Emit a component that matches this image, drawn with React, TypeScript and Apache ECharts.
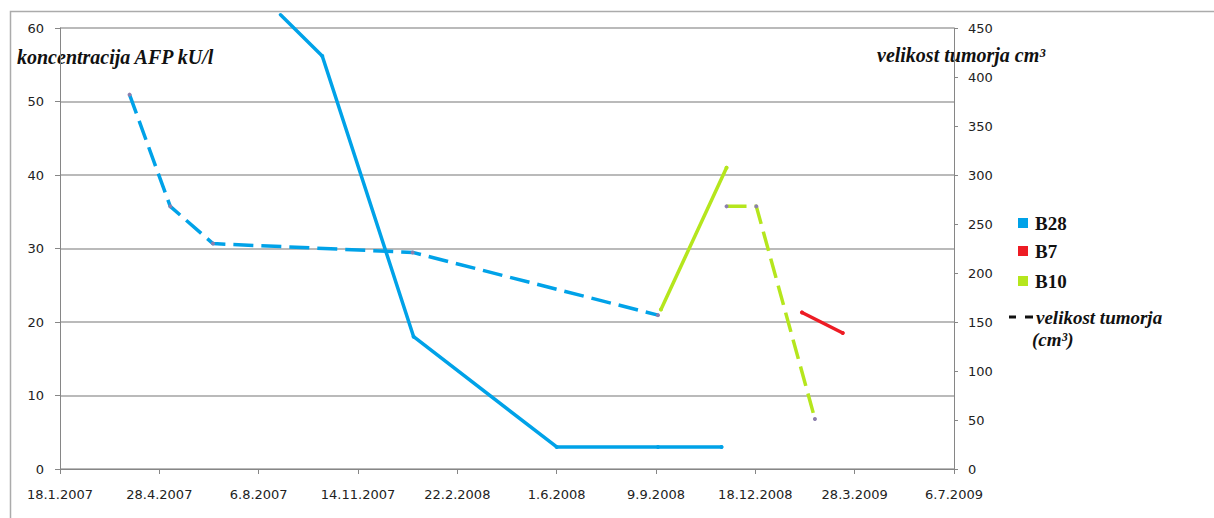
import { useEffect, useRef } from 'react';
import * as echarts from 'echarts';

// Time axis is expressed in days counted from the first tick date.
const BASE_DATE = '2007-01-18';
const X_TICK_DAYS = 100;
const X_MAX_DAYS = 900;

// AFP concentration (kU/l, left axis)
const b28AfpDates = ['2007-08-28', '2007-10-09', '2008-01-09', '2008-06-01', '2008-09-11', '2008-11-14'];
const b28Afp = [61.8, 56.2, 18, 3, 3, 3];
const b10AfpDates = ['2008-09-14', '2008-11-19'];
const b10Afp = [21.7, 41];
const b7AfpDates = ['2009-02-03', '2009-03-16'];
const b7Afp = [21.3, 18.5];

// Tumour size (cm³, right axis)
const b28TumorDates = ['2007-03-29', '2007-05-09', '2007-06-21', '2008-01-08', '2008-09-11'];
const b28Tumor = [382, 268, 230, 221, 157];
const b10TumorDates = ['2008-11-19', '2008-12-19', '2009-02-16'];
const b10Tumor = [268, 268, 51];

const AFP_MAX = 60;
const AFP_STEP = 10;
const TUMOR_MAX = 450;
const TUMOR_STEP = 50;

const legendItems = ['B28', 'B7', 'B10'];
const BLUE = '#00A2E8';
const RED = '#ED1C24';
const GREEN = '#B5E61D';
const legendColors = [BLUE, RED, GREEN];

const DAY_MS = 86400000;

function utc(iso: string): number {
  const [y, m, d] = iso.split('-').map(Number);
  return Date.UTC(y, m - 1, d);
}

function dayOffset(iso: string): number {
  return Math.round((utc(iso) - utc(BASE_DATE)) / DAY_MS);
}

function formatDay(v: number): string {
  const d = new Date(utc(BASE_DATE) + v * DAY_MS);
  return `${d.getUTCDate()}.${d.getUTCMonth() + 1}.${d.getUTCFullYear()}`;
}

function points(dates: string[], values: number[], axisMax: number) {
  return dates.map((date, i) => {
    const value = [dayOffset(date), values[i]];
    // values beyond the axis top carry no marker
    return values[i] > axisMax ? { value, symbol: 'none' } : value;
  });
}

const AXIS_GREY = '#868686';
const GRID_GREY = '#a3a3a3';
const LABEL_FONT = '"DejaVu Sans", Verdana, sans-serif';
const SERIF = '"Liberation Serif", "Times New Roman", serif';
const DOT = '#8c7fae';

function solidLine(name: string, color: string, data: any[], yAxisIndex: number) {
  return {
    name,
    type: 'line',
    yAxisIndex,
    data,
    clip: false,
    symbol: 'circle',
    symbolSize: 4,
    showSymbol: true,
    itemStyle: { color },
    lineStyle: { color, width: 3.5, cap: 'round', join: 'round' },
  };
}

function dashedLine(name: string, color: string, data: any[], yAxisIndex: number) {
  return {
    name,
    type: 'line',
    yAxisIndex,
    data,
    clip: false,
    symbol: 'circle',
    symbolSize: 4,
    showSymbol: true,
    itemStyle: { color: DOT },
    lineStyle: { color, width: 3.5, type: [20, 8], join: 'round' },
  };
}

export default function App() {
  const ref = useRef<HTMLDivElement>(null);

  useEffect(() => {
    if (!ref.current) return;
    const chart = echarts.init(ref.current, undefined, { renderer: 'svg' });

    const titleStyle = {
      fill: '#111',
      fontFamily: SERIF,
      fontWeight: 'bold',
      fontStyle: 'italic',
      fontSize: 20,
      textVerticalAlign: 'middle',
    };
    const legendTextStyle = {
      fill: '#111',
      fontFamily: SERIF,
      fontWeight: 'bold',
      fontSize: 19,
      textVerticalAlign: 'middle',
    };
    const legendRows = [223, 251, 281];

    const graphic: any[] = [
      {
        type: 'rect',
        silent: true,
        shape: { x: 10.5, y: 11.5, width: 1400, height: 700 },
        style: { fill: 'none', stroke: '#ababab', lineWidth: 1.5 },
        z: -1,
      },
      { type: 'text', x: 17, y: 57, style: { ...titleStyle, text: 'koncentracija AFP kU/l' } },
      { type: 'text', x: 877, y: 55, style: { ...titleStyle, text: 'velikost tumorja cm³' } },
    ];
    legendItems.forEach((label, i) => {
      graphic.push({
        type: 'rect',
        shape: { x: 1018, y: legendRows[i] - 5, width: 10, height: 10 },
        style: { fill: legendColors[i] },
      });
      graphic.push({
        type: 'text',
        x: 1035,
        y: legendRows[i],
        style: { ...legendTextStyle, text: label },
      });
    });
    graphic.push(
      {
        type: 'line',
        shape: { x1: 1009, y1: 317, x2: 1016, y2: 317 },
        style: { stroke: '#111', lineWidth: 3 },
      },
      {
        type: 'line',
        shape: { x1: 1025, y1: 317, x2: 1033, y2: 317 },
        style: { stroke: '#111', lineWidth: 3 },
      },
      {
        type: 'text',
        x: 1036,
        y: 317,
        style: { ...legendTextStyle, fontStyle: 'italic', text: 'velikost tumorja' },
      },
      {
        type: 'text',
        x: 1032,
        y: 339,
        style: { ...legendTextStyle, fontStyle: 'italic', text: '(cm³)' },
      }
    );

    chart.setOption({
      animation: false,
      backgroundColor: '#ffffff',
      grid: { left: 60, right: 260, top: 28, bottom: 49, containLabel: false },
      xAxis: {
        type: 'value',
        min: 0,
        max: X_MAX_DAYS,
        interval: X_TICK_DAYS,
        axisLine: { show: true, lineStyle: { color: AXIS_GREY, width: 1 } },
        axisTick: { show: true, length: 5, lineStyle: { color: AXIS_GREY } },
        splitLine: { show: false },
        axisLabel: {
          formatter: (v: number) => formatDay(v),
          margin: 19,
          color: '#222',
          fontFamily: LABEL_FONT,
          fontSize: 13,
        },
      },
      yAxis: [
        {
          type: 'value',
          min: 0,
          max: AFP_MAX,
          interval: AFP_STEP,
          position: 'left',
          axisLine: { show: true, lineStyle: { color: AXIS_GREY, width: 1 } },
          axisTick: { show: true, length: 5, lineStyle: { color: AXIS_GREY } },
          splitLine: { show: true, lineStyle: { color: GRID_GREY, width: 1.5 } },
          axisLabel: { margin: 16, color: '#222', fontFamily: LABEL_FONT, fontSize: 13 },
        },
        {
          type: 'value',
          min: 0,
          max: TUMOR_MAX,
          interval: TUMOR_STEP,
          position: 'right',
          axisLine: { show: true, lineStyle: { color: AXIS_GREY, width: 1 } },
          axisTick: { show: true, length: 4, lineStyle: { color: AXIS_GREY } },
          splitLine: { show: false },
          axisLabel: { margin: 14, color: '#222', fontFamily: LABEL_FONT, fontSize: 13 },
        },
      ],
      series: [
        dashedLine('B28 velikost tumorja', BLUE, points(b28TumorDates, b28Tumor, TUMOR_MAX), 1),
        solidLine('B28', BLUE, points(b28AfpDates, b28Afp, AFP_MAX), 0),
        solidLine('B10', GREEN, points(b10AfpDates, b10Afp, AFP_MAX), 0),
        dashedLine('B10 velikost tumorja', GREEN, points(b10TumorDates, b10Tumor, TUMOR_MAX), 1),
        solidLine('B7', RED, points(b7AfpDates, b7Afp, AFP_MAX), 0),
      ],
      graphic,
    });

    return () => chart.dispose();
  }, []);

  return (
    <div
      ref={ref}
      style={{ position: 'fixed', left: 0, top: 0, width: 1214, height: 518, overflow: 'hidden', background: '#fff' }}
    />
  );
}
